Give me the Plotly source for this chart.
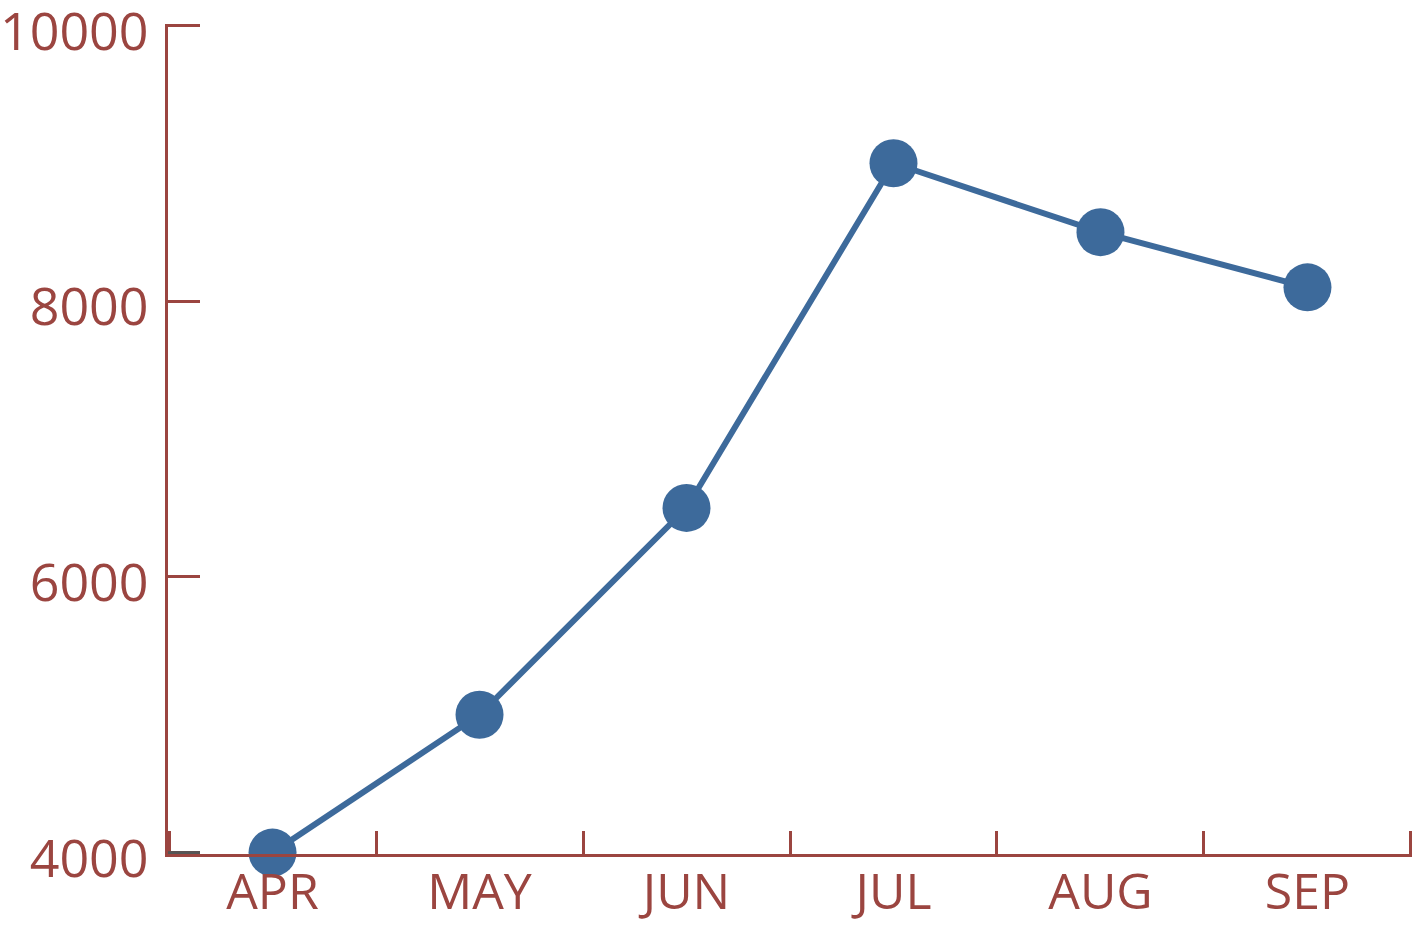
import plotly.graph_objects as go

months = ["APR", "MAY", "JUN", "JUL", "AUG", "SEP"]
values = [4000, 5000, 6500, 9000, 8500, 8100]
y_ticks = [4000, 6000, 8000, 10000]
y_tick_labels = ["4000", "6000", "8000", "10000"]

AXIS = "#9b4540"
LINE = "#3d6a9b"
FONT = "Open Sans"

fig = go.Figure()
fig.add_trace(go.Scatter(
    x=months, y=values, mode="lines+markers",
    line=dict(color=LINE, width=6),
    marker=dict(color=LINE, size=48),
    cliponaxis=False, showlegend=False,
))

fig.update_layout(
    width=1415, height=925,
    margin=dict(l=168, r=3, t=24, b=71),
    paper_bgcolor="white", plot_bgcolor="white",
    font=dict(family=FONT, color=AXIS, size=50),
    xaxis=dict(
        type="category", range=[-0.505, 5.505], automargin=False,
        showline=True, linecolor=AXIS, linewidth=3,
        ticks="inside", tickson="boundaries", ticklen=23, tickwidth=3, tickcolor=AXIS,
        showgrid=False, zeroline=False,
        tickfont=dict(family=FONT, size=50, color=AXIS),
        ticklabelstandoff=-8, ticklabeloverflow="allow",
    ),
    yaxis=dict(
        range=[3990, 10010], tickvals=y_ticks, ticktext=y_tick_labels, automargin=False,
        showline=True, linecolor=AXIS, linewidth=3,
        ticks="inside", ticklen=32, tickwidth=3, tickcolor=AXIS,
        showgrid=False, zeroline=False,
        tickfont=dict(family=FONT, size=52, color=AXIS),
        ticklabelstandoff=6, ticklabeloverflow="allow", ticklabelshift=6,
    ),
    shapes=[dict(type="line", xref="paper", yref="y", x0=0, x1=32/1244,
                 y0=y_ticks[0], y1=y_ticks[0], line=dict(color="#555555", width=3), layer="above")],
)

fig.write_html("out.html", config={"displayModeBar": False},
               post_script="document.body.style.margin='0';")
